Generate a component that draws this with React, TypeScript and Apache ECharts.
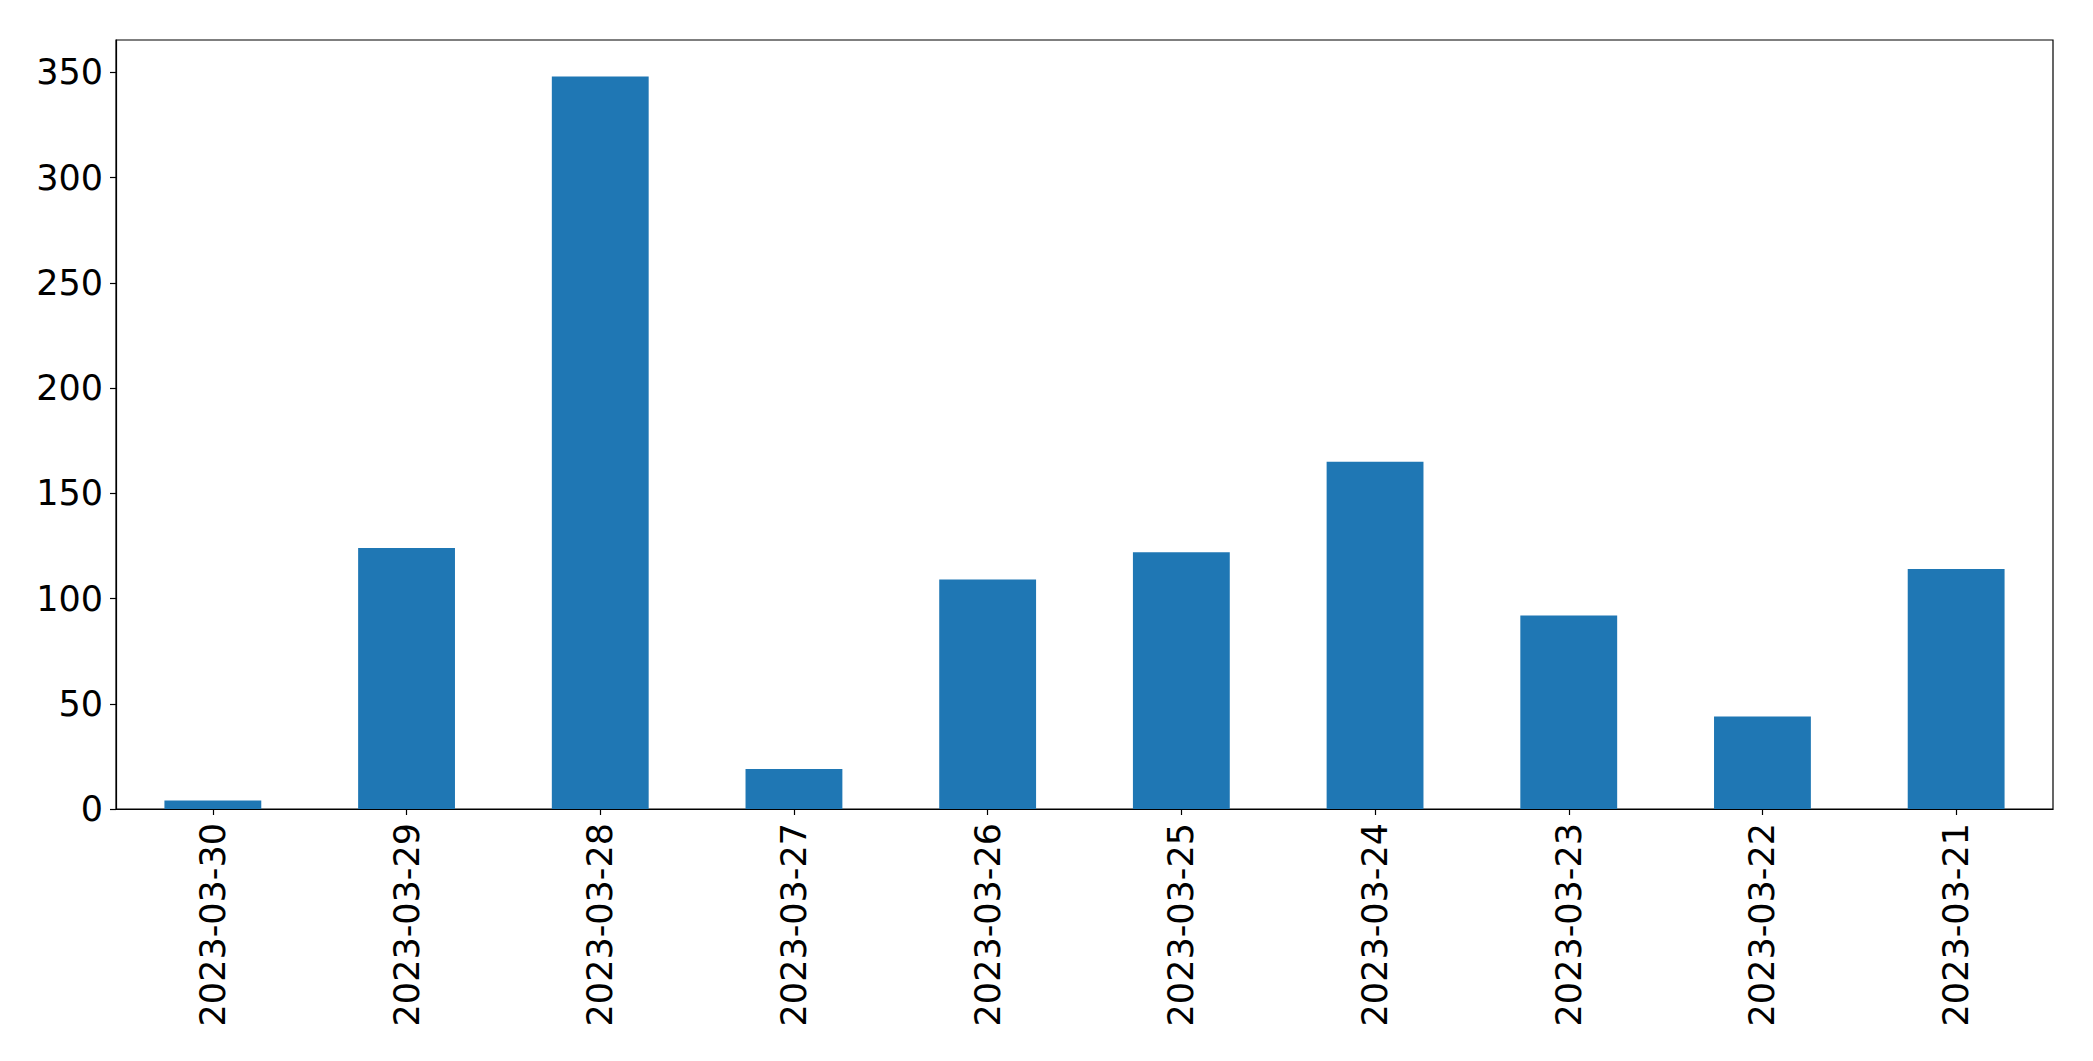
import React, { useEffect, useRef } from "react";
import * as echarts from "echarts";

const categories = [
  "2023-03-30",
  "2023-03-29",
  "2023-03-28",
  "2023-03-27",
  "2023-03-26",
  "2023-03-25",
  "2023-03-24",
  "2023-03-23",
  "2023-03-22",
  "2023-03-21",
];
const values = [4, 124, 348, 19, 109, 122, 165, 92, 44, 114];
const yTicks = [0, 50, 100, 150, 200, 250, 300, 350];

export default function App() {
  const ref = useRef<HTMLDivElement>(null);
  useEffect(() => {
    if (!ref.current) return;
    const chart = echarts.init(ref.current, null, { renderer: "svg" });
    const maxV = Math.max(...values);
    const yMax = maxV + 0.05 * maxV;
    const font = "DejaVu Sans";
    chart.setOption({
      animation: false,
      backgroundColor: "#ffffff",
      grid: {
        left: 116,
        top: 40,
        width: 1937,
        height: 769,
        show: true,
        borderColor: "#000000",
        borderWidth: 1.2,
        backgroundColor: "transparent",
      },
      xAxis: {
        type: "category",
        data: categories,
        boundaryGap: true,
        axisLine: { show: true, lineStyle: { color: "#000000", width: 1.2 } },
        axisTick: {
          show: true,
          alignWithLabel: true,
          length: 6,
          inside: false,
          lineStyle: { color: "#000000", width: 1.2 },
        },
        axisLabel: {
          rotate: 90,
          margin: 14,
          fontFamily: font,
          fontSize: 35,
          color: "#000000",
          interval: 0,
        },
        splitLine: { show: false },
      },
      yAxis: {
        type: "value",
        min: 0,
        max: yMax,
        interval: 50,
        axisLine: { show: true, lineStyle: { color: "#000000", width: 1.2 } },
        axisTick: {
          show: true,
          length: 6,
          lineStyle: { color: "#000000", width: 1.2 },
        },
        axisLabel: {
          margin: 13,
          fontFamily: font,
          fontSize: 35,
          color: "#000000",
          showMaxLabel: false,
          formatter: (v: number) => (yTicks.includes(v) ? String(v) : ""),
        },
        splitLine: { show: false },
      },
      series: [
        {
          type: "bar",
          data: values,
          barWidth: "50%",
          itemStyle: { color: "#1f77b4" },
        },
      ],
    });
    return () => chart.dispose();
  }, []);
  return (
    <div
      ref={ref}
      style={{ position: "fixed", left: 0, top: 0, width: 2093, height: 1061 }}
    />
  );
}
